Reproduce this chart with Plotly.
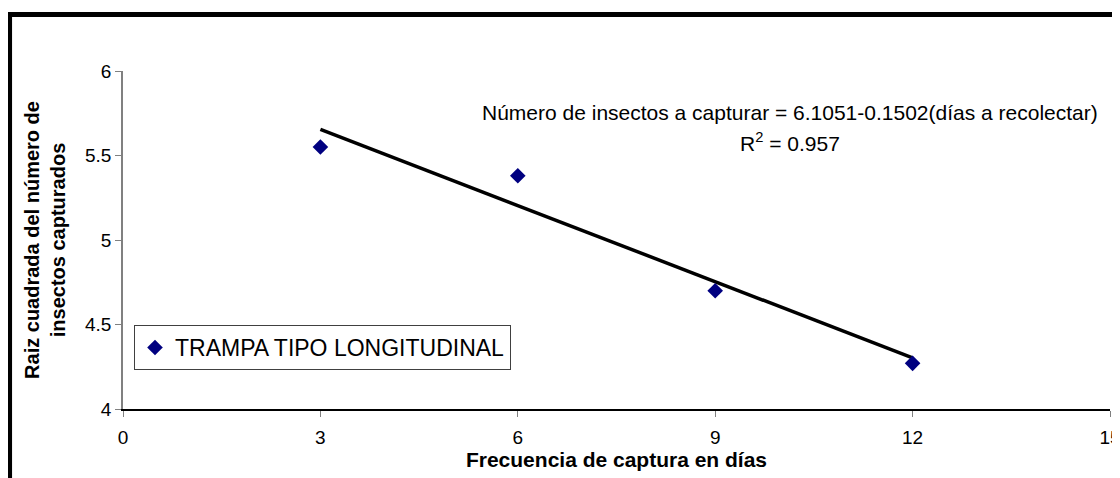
import plotly.graph_objects as go

# Data
dias = [3, 6, 9, 12]
raiz = [5.55, 5.38, 4.70, 4.27]
intercepto = 6.1051
pendiente = -0.1502
trend_x = [3, 12]
trend_y = [intercepto + pendiente * x for x in trend_x]

serie_nombre = "TRAMPA TIPO LONGITUDINAL"
x_ticks = [0, 3, 6, 9, 12, 15]
y_ticks = [4, 4.5, 5, 5.5, 6]
y_tick_text = ["4", "4.5", "5", "5.5", "6"]

FONT = "Liberation Sans, Arial, sans-serif"

OFF = 8  # default page body margin
W, H = 1120 - OFF, 478 - OFF
# reference pixel positions (page coords)
plot_left, plot_right, plot_top, plot_bottom = 123, 1110.5, 71, 409
ml = plot_left - OFF
mt = plot_top - OFF
mr = W - (plot_right - OFF)
mb = H - (plot_bottom - OFF)
pw = W - ml - mr
ph = H - mt - mb

def px2paper_x(px):
    return (px - OFF - ml) / pw

def px2paper_y(py):
    return (H - mb - (py - OFF)) / ph

fig = go.Figure()
fig.add_trace(go.Scatter(
    x=trend_x, y=trend_y, mode="lines",
    line=dict(color="black", width=3.5),
    showlegend=False, hoverinfo="skip"))
fig.add_trace(go.Scatter(
    x=dias, y=raiz, mode="markers", name=serie_nombre,
    marker=dict(symbol="diamond", size=12, color="#000080")))

# outer thick frame
fig.add_shape(type="rect", xref="paper", yref="paper",
              x0=px2paper_x(9.5), x1=px2paper_x(1140),
              y0=px2paper_y(500), y1=px2paper_y(14.5),
              line=dict(color="black", width=5))

fig.add_annotation(
    x=px2paper_x(790), y=px2paper_y(113), xref="paper", yref="paper",
    text="Número de insectos a capturar = 6.1051-0.1502(días a recolectar)",
    showarrow=False, font=dict(family=FONT, size=21, color="black"),
    xanchor="center", yanchor="middle")
fig.add_annotation(
    x=px2paper_x(790), y=px2paper_y(142), xref="paper", yref="paper",
    text="R<sup>2</sup> = 0.957",
    showarrow=False, font=dict(family=FONT, size=21, color="black"),
    xanchor="center", yanchor="middle")

fig.update_layout(
    width=W, height=H, autosize=False,
    margin=dict(l=ml, r=mr, t=mt, b=mb, autoexpand=False),
    paper_bgcolor="white", plot_bgcolor="white",
    font=dict(family=FONT, color="black"),
    xaxis=dict(range=[0, 15], tickvals=x_ticks, automargin=False,
               showgrid=False, zeroline=False,
               showline=True, linecolor="black", linewidth=1.5,
               ticks="outside", ticklen=6, tickcolor="#808080", tickwidth=1,
               ticklabelstandoff=4, ticklabeloverflow="allow",
               tickfont=dict(size=19, family=FONT),
               title=dict(text="<b>Frecuencia de captura en días</b>",
                          font=dict(size=21, family=FONT), standoff=0)),
    yaxis=dict(range=[4, 6], tickvals=y_ticks, ticktext=y_tick_text, automargin=False,
               showgrid=False, zeroline=False,
               showline=True, linecolor="#808080", linewidth=1.5,
               ticks="outside", ticklen=6, tickcolor="#808080", tickwidth=1,
               tickfont=dict(size=19, family=FONT),
               title=dict(text="<b>Raiz cuadrada del número de<br>insectos capturados</b>",
                          font=dict(size=20, family=FONT), standoff=14)),
    legend=dict(x=px2paper_x(134), y=px2paper_y(325), xanchor="left", yanchor="top",
                bgcolor="white", bordercolor="#404040", borderwidth=1,
                font=dict(size=23, family=FONT, color="black"),
                itemwidth=30),
)

fig.write_html("out.html")
